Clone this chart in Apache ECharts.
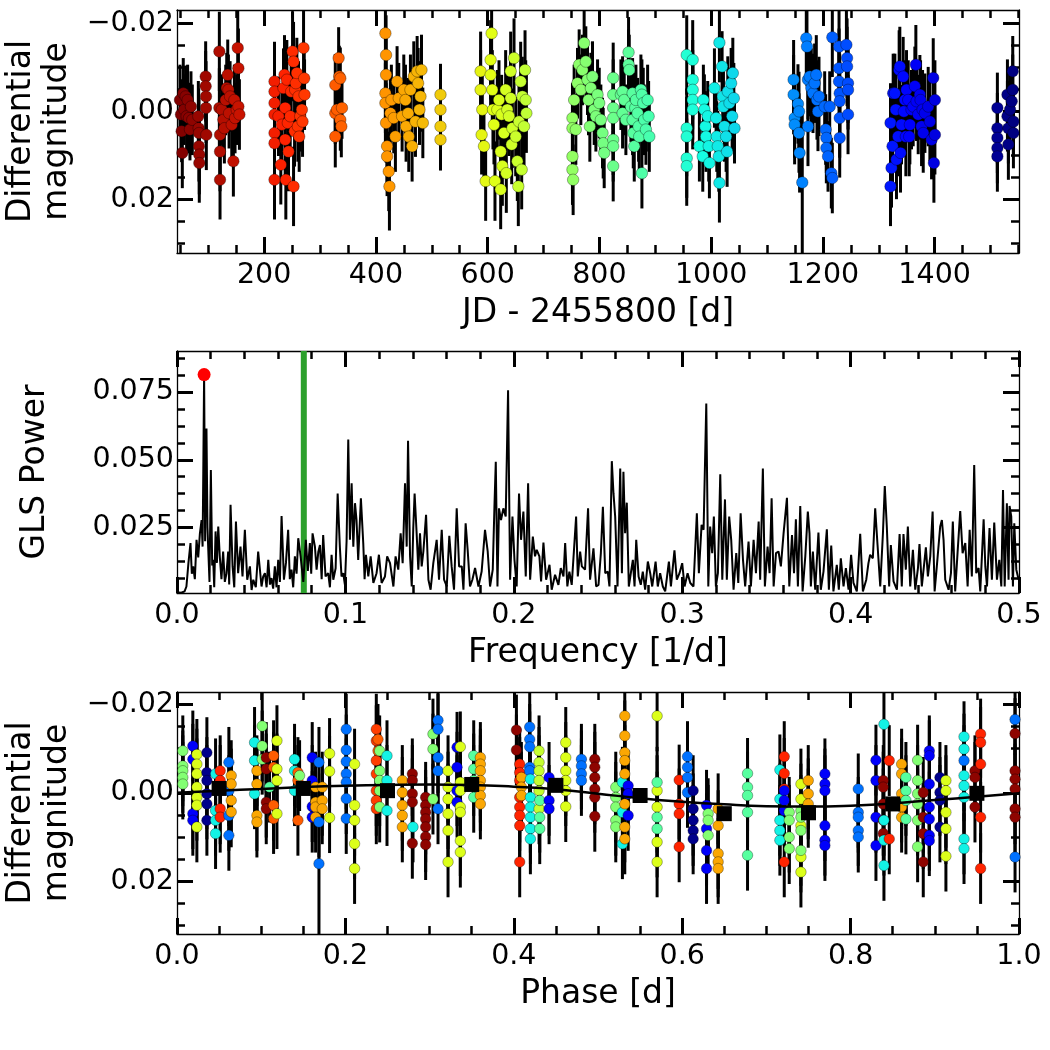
<!DOCTYPE html>
<html>
<head>
<meta charset="utf-8">
<script src="https://cdn.jsdelivr.net/npm/echarts@6/dist/echarts.min.js"></script>
<style>
  html, body { margin: 0; padding: 0; background: #fff; }
  #main { width: 1050px; height: 1050px; }
</style>
</head>
<body>
<div id="main"></div>
<script>
// light curve, one array per observing season: [JD - 2455800, diff. mag, error]
var seasonA = [[49.3,-0.0026,0.008],[51.1,0.0007,0.008],[52.3,0.0045,0.007],[53.5,0.0094,0.008],[55.2,-0.0041,0.008],[57.0,-0.0004,0.008],[59.4,-0.0034,0.007],[61.2,0.0011,0.008],[63.0,-0.0026,0.008],[65.4,0.0015,0.008],[67.2,0.0041,0.007],[69.0,-0.0011,0.008],[71.4,0.0019,0.008],[82.2,0.0011,0.008],[82.8,0.0038,0.009],[83.3,0.0049,0.008],[83.3,0.0079,0.008],[83.9,0.0098,0.009],[83.9,0.0117,0.009],[95.3,-0.0079,0.008],[95.3,-0.0057,0.008],[95.9,-0.0034,0.008],[95.9,-0.0008,0.008],[96.5,0.0053,0.008]];
var seasonB = [[119.8,-0.0136,0.009],[119.8,-0.0008,0.009],[121.0,0.0053,0.009],[121.0,0.0091,0.009],[121.0,0.0155,0.009],[124.0,-0.0004,0.008],[127.0,0.0019,0.008],[128.8,0.0038,0.008],[131.2,-0.0026,0.008],[133.0,-0.0053,0.008],[134.8,-0.0083,0.008],[136.0,-0.0049,0.008],[137.2,0.0004,0.008],[139.0,-0.0034,0.008],[142.0,0.0030,0.008],[144.9,0.0113,0.008],[146.7,-0.0026,0.008],[147.9,0.0015,0.008],[150.9,-0.0004,0.008],[152.7,-0.0144,0.009],[153.9,-0.0098,0.009],[153.9,-0.0011,0.008],[155.7,0.0007,0.008]];
var seasonC = [[218.5,-0.0068,0.009],[218.5,-0.0045,0.009],[218.5,-0.0019,0.009],[218.5,0.0007,0.009],[218.5,0.0049,0.009],[218.5,0.0072,0.009],[218.5,0.0155,0.009],[225.6,0.0011,0.009],[229.8,0.0121,0.009],[231.6,0.0030,0.009],[234.6,-0.0053,0.009],[236.4,-0.0083,0.009],[237.6,-0.0008,0.009],[237.6,0.0064,0.009],[238.8,0.0155,0.009],[240.6,-0.0072,0.009],[242.4,0.0026,0.009],[243.6,0.0091,0.009],[246.6,0.0011,0.009],[248.4,-0.0045,0.009],[250.8,-0.0136,0.009],[252.6,-0.0113,0.009],[252.6,0.0170,0.009],[254.4,0.0045,0.008],[255.5,-0.0049,0.008],[256.7,-0.0064,0.008],[258.5,-0.0087,0.008],[260.3,0.0034,0.008],[261.5,-0.0034,0.008],[262.7,0.0057,0.008],[264.5,0.0011,0.008],[267.5,-0.0004,0.008],[268.7,0.0023,0.008],[270.5,-0.0144,0.009],[271.7,-0.0075,0.008],[272.3,-0.0038,0.008]];
var seasonD = [[327.3,-0.0060,0.007],[327.3,0.0004,0.007],[327.3,0.0057,0.007],[330.3,-0.0004,0.007],[333.3,-0.0121,0.007],[334.5,-0.0079,0.007],[336.3,-0.0075,0.007],[336.3,0.0019,0.007],[338.1,0.0034,0.007],[339.3,-0.0008,0.007]];
var seasonE = [[417.0,-0.0177,0.009],[418.2,-0.0128,0.009],[418.2,-0.0083,0.009],[417.0,-0.0041,0.009],[417.0,-0.0019,0.009],[418.2,0.0026,0.009],[420.0,0.0079,0.009],[420.0,0.0102,0.009],[423.0,0.0136,0.009],[424.2,0.0170,0.010],[425.9,0.0004,0.008],[427.7,-0.0026,0.008],[431.9,0.0015,0.008],[434.9,0.0057,0.008],[437.9,-0.0068,0.008],[440.9,-0.0030,0.008],[446.9,0.0011,0.008],[449.9,-0.0049,0.008],[452.9,-0.0026,0.008],[454.0,0.0034,0.008],[457.6,0.0004,0.008],[458.8,0.0057,0.008],[461.8,-0.0049,0.008],[464.8,0.0079,0.008],[467.8,-0.0079,0.008],[470.8,0.0023,0.008],[473.8,-0.0091,0.008],[475.6,-0.0064,0.008],[478.0,-0.0004,0.008],[479.8,-0.0034,0.008],[481.6,-0.0094,0.008],[484.0,0.0026,0.008]];
var seasonF = [[515.6,-0.0038,0.007],[515.6,-0.0004,0.007],[515.6,0.0034,0.007],[515.6,0.0064,0.007]];
var seasonG = [[587.4,-0.0091,0.009],[587.4,-0.0049,0.009],[589.2,0.0053,0.009],[590.4,-0.0004,0.009],[593.4,0.0079,0.009],[596.4,0.0158,0.009],[605.3,-0.0117,0.009],[605.3,-0.0083,0.009],[607.1,-0.0177,0.009],[608.3,-0.0049,0.009],[609.5,-0.0004,0.009],[611.3,0.0030,0.009],[613.1,0.0158,0.009],[617.3,-0.0004,0.009],[620.3,-0.0026,0.009],[623.3,0.0091,0.009],[623.3,0.0177,0.009],[625.0,0.0007,0.009],[626.3,0.0124,0.009],[629.2,0.0049,0.009],[632.2,-0.0049,0.009],[633.4,0.0140,0.009],[635.2,-0.0004,0.009],[638.2,0.0011,0.009],[641.2,-0.0091,0.009],[641.2,-0.0030,0.009],[643.0,0.0075,0.009],[644.2,0.0038,0.009],[647.2,-0.0121,0.009],[650.2,0.0057,0.009],[653.1,0.0113,0.009],[654.9,0.0170,0.009],[656.1,0.0023,0.009],[659.1,-0.0068,0.009],[660.9,0.0132,0.009],[662.1,-0.0034,0.009],[665.1,0.0034,0.009],[666.9,-0.0094,0.009],[668.1,-0.0026,0.009],[669.3,0.0004,0.009]];
var seasonH = [[751.8,0.0015,0.008],[751.8,0.0038,0.008],[751.8,0.0102,0.008],[751.8,0.0132,0.008],[753.0,0.0155,0.008],[754.8,-0.0026,0.008],[757.8,0.0041,0.008],[760.8,-0.0064,0.008],[763.8,-0.0106,0.008],[766.8,-0.0049,0.008],[769.7,-0.0094,0.008],[772.7,-0.0155,0.008],[775.7,-0.0113,0.008],[778.7,-0.0072,0.008],[780.5,-0.0026,0.008],[782.9,0.0034,0.008],[784.7,-0.0053,0.008],[787.7,-0.0079,0.008],[790.7,-0.0004,0.008],[793.7,0.0011,0.008],[796.7,-0.0038,0.008],[799.7,-0.0019,0.008],[802.6,0.0019,0.008],[805.6,0.0049,0.008],[806.8,0.0072,0.008],[808.6,0.0094,0.008]];
var seasonI = [[824.7,-0.0076,0.008],[824.7,-0.0038,0.008],[824.7,-0.0008,0.008],[824.7,0.0015,0.008],[824.7,0.0064,0.008],[824.7,0.0079,0.008],[824.7,0.0124,0.008],[838.5,-0.0038,0.008],[841.5,-0.0045,0.008],[841.5,0.0004,0.008],[844.4,-0.0026,0.008],[847.4,0.0019,0.008],[852.2,-0.0134,0.008],[852.2,-0.0106,0.008],[853.4,-0.0094,0.008],[856.4,-0.0011,0.008],[859.4,-0.0041,0.008],[859.4,0.0019,0.008],[860.6,0.0049,0.008],[862.4,0.0079,0.008],[864.2,-0.0008,0.008],[865.4,-0.0026,0.008],[868.4,0.0004,0.008],[870.2,0.0034,0.008],[871.3,0.0057,0.008],[874.3,-0.0049,0.008],[876.1,-0.0038,0.008],[876.1,0.0140,0.008],[878.5,-0.0019,0.008],[880.3,0.0019,0.008],[883.3,0.0041,0.008],[886.3,-0.0026,0.008],[888.1,0.0011,0.008],[889.3,0.0057,0.008]];
var seasonJ = [[956.3,-0.0128,0.009],[956.3,0.0038,0.009],[956.3,0.0057,0.009],[956.3,0.0106,0.009],[956.3,0.0124,0.009],[967.0,-0.0117,0.009],[967.0,-0.0072,0.009],[967.0,-0.0049,0.009],[967.0,-0.0026,0.009],[967.0,-0.0004,0.009],[979.0,0.0079,0.008],[985.0,0.0102,0.008],[986.1,-0.0026,0.008],[987.9,-0.0004,0.008],[989.7,0.0034,0.008],[990.9,0.0057,0.008],[993.9,0.0011,0.008],[995.7,0.0079,0.008],[996.9,0.0117,0.008],[1005.9,-0.0053,0.009],[1008.9,0.0015,0.008],[1010.1,0.0057,0.008],[1011.9,0.0079,0.008],[1013.7,0.0102,0.008],[1014.8,-0.0156,0.009],[1014.8,0.0162,0.009],[1019.6,-0.0102,0.008],[1020.8,-0.0034,0.008],[1022.0,-0.0011,0.008],[1023.8,0.0034,0.008],[1026.8,0.0057,0.008],[1028.6,0.0091,0.008],[1029.8,-0.0045,0.008],[1032.8,-0.0019,0.008],[1035.8,-0.0064,0.008],[1037.6,0.0011,0.008],[1038.8,-0.0087,0.008],[1040.6,-0.0030,0.008],[1041.8,0.0038,0.008]];
var seasonK = [[1147.6,-0.0072,0.009],[1147.6,-0.0038,0.009],[1149.4,0.0015,0.009],[1149.4,0.0030,0.009],[1155.4,-0.0017,0.009],[1157.2,0.0000,0.009],[1157.2,0.0049,0.009],[1158.3,0.0094,0.009],[1163.1,0.0161,0.016],[1170.3,-0.0166,0.009],[1171.5,-0.0147,0.009],[1173.3,-0.0072,0.009],[1173.3,0.0034,0.009],[1176.3,-0.0079,0.009],[1179.3,-0.0053,0.009],[1182.3,-0.0041,0.009],[1185.2,-0.0064,0.009],[1188.2,-0.0083,0.009],[1189.4,-0.0026,0.009],[1191.2,0.0000,0.009],[1193.0,-0.0034,0.009],[1203.2,-0.0011,0.008],[1205.0,0.0041,0.008],[1206.2,0.0060,0.008],[1206.2,0.0083,0.008],[1209.2,0.0102,0.008],[1212.2,-0.0011,0.008],[1215.1,0.0140,0.008],[1216.9,0.0151,0.008],[1216.9,-0.0168,0.009],[1228.9,-0.0147,0.009],[1228.9,-0.0098,0.009],[1228.9,-0.0068,0.009],[1230.1,-0.0041,0.009],[1230.1,-0.0023,0.009],[1230.1,0.0015,0.009],[1230.1,0.0060,0.009],[1242.1,-0.0151,0.009],[1243.3,-0.0121,0.009],[1243.3,-0.0102,0.009],[1245.0,-0.0064,0.009],[1245.0,-0.0049,0.009],[1245.0,0.0007,0.009]];
var seasonL = [[1321.0,0.0026,0.009],[1321.0,0.0170,0.009],[1322.8,0.0128,0.009],[1324.6,0.0079,0.009],[1325.8,-0.0041,0.009],[1328.8,-0.0041,0.009],[1330.5,-0.0004,0.009],[1331.7,0.0109,0.009],[1334.7,0.0057,0.009],[1336.5,-0.0094,0.009],[1337.7,-0.0102,0.009],[1338.9,0.0094,0.009],[1340.7,0.0030,0.009],[1343.7,-0.0079,0.009],[1344.9,0.0000,0.009],[1346.7,-0.0026,0.009],[1348.5,0.0057,0.009],[1349.7,-0.0049,0.009],[1352.7,-0.0026,0.009],[1354.5,0.0057,0.009],[1355.7,0.0030,0.009],[1358.6,-0.0004,0.009],[1361.6,-0.0011,0.009],[1364.6,-0.0057,0.009],[1366.4,-0.0106,0.009],[1367.6,-0.0023,0.009],[1370.6,0.0007,0.009],[1373.6,-0.0038,0.009],[1374.8,-0.0026,0.009],[1376.6,0.0034,0.009],[1378.4,-0.0004,0.009],[1379.6,0.0049,0.009],[1382.6,0.0004,0.009],[1388.5,-0.0011,0.009],[1391.5,0.0023,0.009],[1394.5,0.0064,0.009],[1397.5,-0.0076,0.009],[1398.7,0.0117,0.009],[1400.5,-0.0026,0.009],[1400.5,0.0053,0.009]];
var seasonM = [[1512.3,-0.0008,0.008],[1512.3,0.0038,0.008],[1512.3,0.0060,0.008],[1512.3,0.0083,0.008],[1512.3,0.0102,0.008],[1530.3,-0.0038,0.008],[1530.3,0.0011,0.008],[1532.0,0.0038,0.008],[1532.0,0.0075,0.008],[1535.0,-0.0004,0.008],[1538.0,-0.0023,0.008],[1539.8,-0.0091,0.008],[1539.8,-0.0049,0.008],[1541.0,0.0023,0.008],[1541.0,0.0049,0.008]];

// GLS periodogram: [frequency 1/d, power]
var gls = [
[0.0000,0.0012],[0.0025,0.0010],[0.0045,0.0015],[0.0056,0.0033],[0.0068,0.0120],[0.0080,0.0193],[0.0088,0.0080],[0.0096,0.0107],[0.0106,0.0060],[0.0116,0.0205],[0.0126,0.0140],[0.0136,0.0229],[0.0146,0.0278],[0.0152,0.0180],[0.0156,0.0450],[0.0161,0.0814],[0.0167,0.0200],[0.0171,0.0480],[0.0175,0.0615],[0.0181,0.0250],[0.0185,0.0180],[0.0193,0.0050],[0.0201,0.0462],[0.0209,0.0110],[0.0215,0.0131],[0.0221,0.0030],[0.0229,0.0236],[0.0237,0.0120],[0.0245,0.0254],[0.0254,0.0144],[0.0264,0.0060],[0.0274,0.0162],[0.0284,0.0050],[0.0294,0.0082],[0.0304,0.0162],[0.0310,0.0040],[0.0318,0.0334],[0.0330,0.0107],[0.0340,0.0030],[0.0350,0.0272],[0.0363,0.0082],[0.0377,0.0180],[0.0389,0.0070],[0.0403,0.0242],[0.0417,0.0058],[0.0433,0.0107],[0.0443,0.0020],[0.0453,0.0058],[0.0468,0.0030],[0.0482,0.0162],[0.0502,0.0033],[0.0512,0.0070],[0.0522,0.0082],[0.0532,0.0030],[0.0542,0.0131],[0.0552,0.0040],[0.0561,0.0064],[0.0571,0.0025],[0.0581,0.0107],[0.0591,0.0030],[0.0601,0.0131],[0.0611,0.0050],[0.0621,0.0293],[0.0635,0.0058],[0.0647,0.0120],[0.0660,0.0242],[0.0670,0.0060],[0.0680,0.0095],[0.0690,0.0030],[0.0700,0.0144],[0.0710,0.0080],[0.0720,0.0211],[0.0734,0.0144],[0.0750,0.0050],[0.0765,0.0205],[0.0777,0.0090],[0.0789,0.0193],[0.0797,0.0080],[0.0805,0.0229],[0.0819,0.0180],[0.0829,0.0095],[0.0839,0.0160],[0.0849,0.0186],[0.0859,0.0060],[0.0868,0.0223],[0.0882,0.0070],[0.0898,0.0082],[0.0908,0.0030],[0.0918,0.0150],[0.0928,0.0058],[0.0942,0.0100],[0.0954,0.0376],[0.0967,0.0180],[0.0977,0.0070],[0.0987,0.0082],[0.0997,0.0040],[0.1007,0.0200],[0.1017,0.0575],[0.1027,0.0205],[0.1037,0.0413],[0.1047,0.0180],[0.1057,0.0340],[0.1066,0.0278],[0.1076,0.0131],[0.1092,0.0358],[0.1106,0.0193],[0.1114,0.0060],[0.1122,0.0150],[0.1136,0.0070],[0.1150,0.0144],[0.1166,0.0046],[0.1185,0.0082],[0.1199,0.0150],[0.1215,0.0046],[0.1235,0.0070],[0.1248,0.0144],
[0.1265,0.0119],[0.1285,0.0033],[0.1298,0.0144],[0.1314,0.0095],[0.1328,0.0229],[0.1340,0.0119],[0.1354,0.0413],[0.1364,0.0180],[0.1372,0.0570],[0.1384,0.0144],[0.1394,0.0033],[0.1403,0.0248],[0.1411,0.0376],[0.1423,0.0229],[0.1433,0.0095],[0.1443,0.0229],[0.1453,0.0107],[0.1463,0.0162],[0.1479,0.0297],[0.1493,0.0058],[0.1506,0.0021],[0.1522,0.0119],[0.1542,0.0205],[0.1556,0.0058],[0.1572,0.0242],[0.1586,0.0058],[0.1602,0.0033],[0.1617,0.0220],[0.1631,0.0107],[0.1645,0.0021],[0.1661,0.0321],[0.1675,0.0107],[0.1691,0.0107],[0.1701,0.0021],[0.1714,0.0266],[0.1726,0.0168],[0.1740,0.0033],[0.1754,0.0058],[0.1770,0.0101],[0.1790,0.0033],[0.1809,0.0088],[0.1829,0.0242],[0.1845,0.0162],[0.1859,0.0033],[0.1875,0.0095],[0.1885,0.0327],[0.1893,0.0493],[0.1903,0.0033],[0.1912,0.0321],[0.1924,0.0278],[0.1938,0.0321],[0.1952,0.0291],[0.1966,0.0756],[0.1978,0.0058],[0.1992,0.0291],[0.2004,0.0131],[0.2017,0.0033],[0.2031,0.0376],[0.2043,0.0205],[0.2057,0.0309],[0.2071,0.0070],[0.2085,0.0413],[0.2097,0.0058],[0.2113,0.0217],[0.2126,0.0144],[0.2136,0.0168],[0.2152,0.0144],[0.2162,0.0052],[0.2176,0.0195],[0.2192,0.0058],[0.2212,0.0113],[0.2225,0.0021],[0.2245,0.0076],[0.2265,0.0039],[0.2279,0.0101],[0.2295,0.0070],[0.2305,0.0193],[0.2318,0.0033],[0.2330,0.0088],[0.2344,0.0039],[0.2358,0.0174],[0.2370,0.0291],[0.2380,0.0070],[0.2394,0.0162],[0.2404,0.0107],[0.2423,0.0095],[0.2441,0.0321],[0.2453,0.0058],[0.2473,0.0174],[0.2489,0.0033],
[0.2503,0.0039],[0.2517,0.0156],[0.2529,0.0327],[0.2543,0.0082],[0.2558,0.0088],[0.2568,0.0033],[0.2582,0.0495],[0.2592,0.0376],[0.2602,0.0291],[0.2616,0.0033],[0.2632,0.0468],[0.2642,0.0082],[0.2651,0.0456],[0.2661,0.0229],[0.2671,0.0342],[0.2683,0.0033],[0.2695,0.0082],[0.2707,0.0131],[0.2717,0.0033],[0.2727,0.0205],[0.2741,0.0070],[0.2754,0.0039],[0.2766,0.0088],[0.2780,0.0021],[0.2796,0.0125],[0.2810,0.0082],[0.2822,0.0033],[0.2842,0.0125],[0.2855,0.0033],[0.2869,0.0082],[0.2885,0.0033],[0.2899,0.0015],[0.2921,0.0125],[0.2933,0.0033],[0.2954,0.0166],[0.2968,0.0058],[0.2984,0.0082],[0.3000,0.0119],[0.3014,0.0033],[0.3032,0.0082],[0.3048,0.0046],[0.3067,0.0033],[0.3087,0.0303],[0.3099,0.0082],[0.3115,0.0260],[0.3127,0.0242],[0.3143,0.0707],[0.3155,0.0033],[0.3166,0.0254],[0.3178,0.0156],[0.3188,0.0291],[0.3200,0.0033],[0.3212,0.0082],[0.3226,0.0447],[0.3238,0.0058],[0.3254,0.0354],[0.3265,0.0058],[0.3279,0.0291],[0.3291,0.0205],[0.3305,0.0021],[0.3321,0.0156],[0.3333,0.0046],[0.3347,0.0303],[0.3361,0.0131],[0.3374,0.0033],[0.3394,0.0199],[0.3408,0.0033],[0.3424,0.0205],[0.3438,0.0082],[0.3454,0.0272],[0.3463,0.0058],[0.3479,0.0468],[0.3491,0.0033],[0.3507,0.0180],[0.3519,0.0082],[0.3531,0.0358],[0.3543,0.0033],[0.3557,0.0156],[0.3572,0.0162],[0.3586,0.0107],[0.3602,0.0229],[0.3622,0.0360],[0.3636,0.0033],[0.3652,0.0223],[0.3664,0.0082],[0.3675,0.0281],[0.3687,0.0033],[0.3701,0.0330],[0.3715,0.0015],[0.3731,0.0144],
[0.3746,0.0309],[0.3756,0.0229],[0.3764,0.0033],[0.3776,0.0162],[0.3790,0.0021],[0.3809,0.0232],[0.3823,0.0021],[0.3839,0.0088],[0.3859,0.0244],[0.3871,0.0021],[0.3885,0.0184],[0.3898,0.0015],[0.3918,0.0113],[0.3930,0.0021],[0.3942,0.0137],[0.3958,0.0033],[0.3972,0.0101],[0.3988,0.0021],[0.4003,0.0150],[0.4017,0.0046],[0.4037,0.0015],[0.4057,0.0227],[0.4073,0.0015],[0.4093,0.0058],[0.4106,0.0119],[0.4116,0.0150],[0.4132,0.0137],[0.4146,0.0321],[0.4160,0.0186],[0.4176,0.0033],[0.4192,0.0229],[0.4203,0.0403],[0.4215,0.0254],[0.4229,0.0033],[0.4239,0.0186],[0.4255,0.0052],[0.4275,0.0021],[0.4291,0.0226],[0.4304,0.0033],[0.4314,0.0226],[0.4328,0.0095],[0.4340,0.0254],[0.4354,0.0033],[0.4370,0.0168],[0.4384,0.0021],[0.4400,0.0101],[0.4409,0.0189],[0.4423,0.0033],[0.4447,0.0177],[0.4459,0.0070],[0.4473,0.0144],[0.4487,0.0309],[0.4499,0.0015],[0.4512,0.0107],[0.4532,0.0254],[0.4542,0.0278],[0.4552,0.0205],[0.4562,0.0058],[0.4582,0.0021],[0.4596,0.0082],[0.4607,0.0272],[0.4621,0.0015],[0.4635,0.0156],[0.4651,0.0311],[0.4665,0.0156],[0.4681,0.0193],[0.4695,0.0033],[0.4707,0.0242],[0.4720,0.0070],[0.4734,0.0481],[0.4746,0.0082],[0.4760,0.0101],[0.4770,0.0015],[0.4790,0.0281],[0.4800,0.0107],[0.4810,0.0033],[0.4825,0.0248],[0.4839,0.0058],[0.4853,0.0269],[0.4869,0.0058],[0.4883,0.0131],[0.4895,0.0033],[0.4905,0.0389],[0.4915,0.0033],[0.4928,0.0340],[0.4938,0.0058],[0.4944,0.0330],[0.4954,0.0291],[0.4964,0.0033],[0.4972,0.0266],[0.4984,0.0095],[0.4998,0.0058]
];
var glsPeak = [0.0161, 0.0814];
var comparisonFreq = 0.0753;

// phase-folded points, grouped per column: [phase, colour JD, error, magnitudes]
var phaseColumns = [
  [0.0069, 780, 0.008, [-0.0095, -0.0061, -0.0050, -0.0035, -0.0020]],
  [0.0188, 1360, 0.008, [-0.0106, -0.0076, 0.0047, 0.0062]],
  [0.0236, 620, 0.008, [-0.0087, -0.0065, -0.0043, -0.0013, 0.0010, 0.0028, 0.0077]],
  [0.0355, 1525, 0.008, [-0.0091, -0.0046, -0.0028, 0.0002, 0.0025, 0.0062]],
  [0.0458, 1000, 0.008, [-0.0043, 0.0040, 0.0062, 0.0092]],
  [0.0513, 240, 0.008, [-0.0050, -0.0028, 0.0036, 0.0055]],
  [0.0616, 1190, 0.008, [-0.0069, -0.0005, 0.0051, 0.0096]],
  [0.0644, 450, 0.008, [-0.0039, -0.0020, 0.0017, 0.0043]],
  [0.0921, 1000, 0.008, [-0.0114, -0.0073, 0.0002]],
  [0.0949, 450, 0.008, [-0.0050, -0.0020, 0.0051, 0.0066]],
  [0.1012, 780, 0.008, [-0.0151, -0.0106, -0.0076]],
  [0.1060, 70, 0.008, [-0.0080, -0.0054, 0.0021, 0.0036]],
  [0.1099, 860, 0.008, [-0.0013]],
  [0.1147, 330, 0.008, [-0.0084, -0.0058, 0.0028, 0.0058]],
  [0.1187, 620, 0.008, [-0.0118, -0.0054, -0.0028, 0.0047]],
  [0.1396, 1000, 0.008, [-0.0076, -0.0050, -0.0005]],
  [0.1436, 330, 0.008, [-0.0046, -0.0028, 0.0062]],
  [0.1456, 780, 0.008, [-0.0039]],
  [0.1606, 1360, 0.008, [-0.0080, -0.0028, 0.0031, 0.0055]],
  [0.1646, 450, 0.008, [-0.0013, 0.0021, 0.0032, 0.0055]],
  [0.1686, 1190, 0.008, [-0.0069, 0.0066]],
  [0.1686, 1190, 0.016, [0.0160]],
  [0.1725, 450, 0.008, [-0.0013, 0.0017, 0.0036]],
  [0.1812, 620, 0.008, [-0.0089, -0.0049, 0.0056]],
  [0.2010, 1190, 0.008, [-0.0144, -0.0097, -0.0071, -0.0043, -0.0024, 0.0013, 0.0058]],
  [0.2109, 620, 0.008, [-0.0065, 0.0028, 0.0062, 0.0115, 0.0171]],
  [0.2367, 280, 0.008, [-0.0144, -0.0118, -0.0073, -0.0043, -0.0005, 0.0017, 0.0036]],
  [0.2387, 330, 0.008, [-0.0121, -0.0095]],
  [0.2407, 780, 0.008, [-0.0095, -0.0050, -0.0028, -0.0005, 0.0032]],
  [0.2494, 1000, 0.008, [-0.0084, -0.0028, 0.0040]],
  [0.2676, 450, 0.008, [-0.0028, -0.0001, 0.0028, 0.0051, 0.0077]],
  [0.2795, 70, 0.008, [-0.0043, -0.0028, 0.0002, 0.0021, 0.0114]],
  [0.2803, 1000, 0.008, [0.0077]],
  [0.2953, 70, 0.008, [0.0010, 0.0028, 0.0044, 0.0059, 0.0077, 0.0099, 0.0117]],
  [0.3040, 780, 0.008, [-0.0133, -0.0099, 0.0014]],
  [0.3100, 1190, 0.008, [-0.0164, -0.0144, -0.0080, -0.0050, 0.0036]],
  [0.3219, 620, 0.008, [-0.0050, -0.0013, 0.0014, 0.0047, 0.0085, 0.0156]],
  [0.3326, 1360, 0.008, [-0.0103, -0.0058, -0.0005, 0.0021]],
  [0.3365, 620, 0.008, [-0.0104, -0.0024, -0.0005, 0.0032, 0.0044, 0.0108, 0.0134]],
  [0.3524, 860, 0.008, [-0.0084, -0.0054, -0.0028, 0.0010]],
  [0.3603, 450, 0.008, [-0.0080, -0.0065, -0.0050, -0.0028, -0.0013, 0.0006, 0.0025]],
  [0.4031, 70, 0.008, [-0.0142, -0.0097]],
  [0.4070, 240, 0.008, [-0.0065, -0.0046, -0.0028, 0.0010, 0.0032, 0.0051, 0.0074, 0.0156]],
  [0.4090, 450, 0.008, [-0.0035, -0.0013, 0.0006]],
  [0.4189, 1190, 0.008, [-0.0149, -0.0121, -0.0104, -0.0058, -0.0050]],
  [0.4197, 1000, 0.008, [-0.0031, 0.0010, 0.0032, 0.0055, 0.0081, 0.0104]],
  [0.4300, 660, 0.008, [-0.0095, -0.0069, -0.0050, -0.0028, -0.0005, 0.0036]],
  [0.4308, 860, 0.008, [0.0017, 0.0055, 0.0081]],
  [0.4419, 1360, 0.008, [-0.0035, 0.0017, 0.0036]],
  [0.4617, 620, 0.008, [-0.0114, -0.0080, -0.0050, -0.0028, -0.0005, 0.0031]],
  [0.4803, 1190, 0.008, [-0.0076, -0.0061, -0.0043, -0.0028]],
  [0.4962, 70, 0.008, [-0.0076, -0.0058, -0.0035, -0.0009, 0.0010, 0.0053]],
  [0.5211, 780, 0.008, [-0.0013, 0.0010, 0.0032, 0.0062, 0.0077]],
  [0.5290, 1000, 0.008, [-0.0024, 0.0044, 0.0115]],
  [0.5318, 450, 0.008, [-0.0174, -0.0129, -0.0091, -0.0073, -0.0043, 0.0025, 0.0077, 0.0104]],
  [0.5358, 1360, 0.008, [-0.0016, 0.0002, 0.0051]],
  [0.5702, 620, 0.008, [-0.0174, -0.0005, 0.0032, 0.0111, 0.0156]],
  [0.5702, 860, 0.008, [-0.0024, 0.0055, 0.0081]],
  [0.5964, 240, 0.008, [-0.0029, 0.0025, 0.0047, 0.0122]],
  [0.6063, 1190, 0.008, [-0.0082, -0.0058, -0.0035, -0.0001]],
  [0.6130, 1525, 0.008, [-0.0005, 0.0036, 0.0062, 0.0085, 0.0104]],
  [0.6289, 1360, 0.008, [0.0028, 0.0081, 0.0130, 0.0171]],
  [0.6308, 780, 0.008, [0.0047, 0.0062, 0.0096]],
  [0.6427, 450, 0.008, [0.0036, 0.0074, 0.0137, 0.0156, 0.0171]],
  [0.6776, 860, 0.008, [-0.0044, -0.0013, 0.0006, 0.0044, 0.0141]],
  [0.7160, 1000, 0.008, [-0.0052, 0.0014, 0.0062, 0.0085, 0.0107]],
  [0.7212, 240, 0.008, [-0.0082, -0.0044, -0.0009, 0.0156]],
  [0.7212, 1360, 0.008, [-0.0005, 0.0017, 0.0040]],
  [0.7271, 780, 0.008, [0.0044, 0.0062, 0.0100, 0.0126]],
  [0.7410, 620, 0.008, [-0.0020, 0.0014, 0.0074, 0.0145, 0.0179]],
  [0.7410, 780, 0.008, [0.0040, 0.0055, 0.0085, 0.0130]],
  [0.7497, 450, 0.008, [-0.0028, 0.0002, 0.0025, 0.0044]],
  [0.7695, 1360, 0.008, [-0.0043, -0.0020, -0.0005, 0.0074, 0.0107, 0.0119]],
  [0.8091, 1190, 0.008, [-0.0009, 0.0044, 0.0055, 0.0085, 0.0100]],
  [0.8301, 1360, 0.008, [-0.0074, -0.0028, 0.0055, 0.0119]],
  [0.8388, 70, 0.008, [-0.0028, -0.0013, 0.0025, 0.0062, 0.0092]],
  [0.8396, 1000, 0.008, [-0.0155, 0.0062, 0.0107, 0.0164]],
  [0.8459, 240, 0.008, [-0.0073, 0.0104]],
  [0.8606, 450, 0.008, [-0.0065, -0.0043, 0.0002, 0.0032, 0.0055]],
  [0.8657, 860, 0.008, [-0.0035, -0.0005, 0.0017, 0.0059]],
  [0.8796, 780, 0.008, [-0.0074, -0.0028, 0.0002, 0.0025, 0.0062, 0.0122]],
  [0.8863, 70, 0.008, [-0.0001, 0.0055, 0.0092, 0.0156]],
  [0.8935, 1360, 0.008, [-0.0095, -0.0084, -0.0020, 0.0032, 0.0059, 0.0096, 0.0108]],
  [0.9061, 1525, 0.008, [-0.0035, -0.0001, 0.0017, 0.0077]],
  [0.9132, 620, 0.008, [-0.0028, -0.0005, 0.0044, 0.0081, 0.0143]],
  [0.9347, 1000, 0.008, [-0.0127, -0.0099, -0.0039, -0.0016, 0.0010, 0.0104, 0.0126]],
  [0.9347, 1190, 0.008, [-0.0073]],
  [0.9477, 70, 0.008, [-0.0050, -0.0035, 0.0032]],
  [0.9544, 240, 0.008, [-0.0133, -0.0114, -0.0065, 0.0055, 0.0171]],
  [0.9953, 1190, 0.008, [-0.0166, 0.0145]],
  [0.9953, 70, 0.008, [-0.0134, -0.0050, -0.0031, -0.0009, 0.0036, 0.0055]]
];

// binned means and the fitted curve
var binPhase = [0.05, 0.15, 0.25, 0.35, 0.45, 0.55, 0.65, 0.75, 0.85, 0.95];
var binMag = [-0.0010, -0.0010, -0.0005, -0.0019, -0.0017, 0.0006, 0.0047, 0.0045, 0.0025, 0.0001];
var fitPhase = [0.00, 0.05, 0.10, 0.15, 0.20, 0.25, 0.30, 0.35, 0.40, 0.45, 0.50, 0.55, 0.60, 0.65, 0.70, 0.75, 0.80, 0.85, 0.90, 0.95, 1.00];
var fitMag = [0.0000, -0.0005, -0.0009, -0.0013, -0.0016, -0.0018, -0.0019, -0.0018, -0.0014, -0.0008, 0.0002, 0.0012, 0.0020, 0.0026, 0.0030, 0.0031, 0.0029, 0.0024, 0.0016, 0.0009, 0.0001];

// tick positions
var jdMajor = [200, 400, 600, 800, 1000, 1200, 1400];
var jdMinor = [50, 100, 150, 250, 300, 350, 450, 500, 550, 650, 700, 750, 850, 900, 950, 1050, 1100, 1150, 1250, 1300, 1350, 1450, 1500, 1550];
var magMajor = [-0.02, 0, 0.02];
var magMinor = [-0.015, -0.01, -0.005, 0.005, 0.01, 0.015, 0.025, 0.03];
var freqMajor = [0, 0.1, 0.2, 0.3, 0.4, 0.5];
var freqMinor = [0.02, 0.04, 0.06, 0.08, 0.12, 0.14, 0.16, 0.18, 0.22, 0.24, 0.26, 0.28, 0.32, 0.34, 0.36, 0.38, 0.42, 0.44, 0.46, 0.48];
var powMajor = [0.025, 0.05, 0.075];
var powMinor = [0.00625, 0.0125, 0.01875, 0.03125, 0.0375, 0.04375, 0.05625, 0.0625, 0.06875, 0.08125, 0.0875];
var phaseMajor = [0, 0.2, 0.4, 0.6, 0.8, 1.0];
var phaseMinor = [0.05, 0.1, 0.15, 0.25, 0.3, 0.35, 0.45, 0.5, 0.55, 0.65, 0.7, 0.75, 0.85, 0.9, 0.95];

var jetR = ['#800000', '#ff2100', '#ff9700', '#e2ff15', '#7bff7b', '#15ffe2', '#0080ff', '#0000ff', '#000080'];

var lightCurve = [].concat(seasonA, seasonB, seasonC, seasonD, seasonE, seasonF, seasonG,
  seasonH, seasonI, seasonJ, seasonK, seasonL, seasonM);
var phased = [];
phaseColumns.forEach(function (c) {
  c[3].forEach(function (m) { phased.push([c[0], m, c[2], c[1]]); });
});

var FONT = 'DejaVu Sans';

function magLabel(v) { return (v < 0 ? '\u2212' : '') + Math.abs(v).toFixed(2); }

// four axes per side pair: main (labels, long ticks), minor, mirrored main, mirrored minor
function frame(kind, grid, min, max, major, minor, main) {
  var sides = kind === 'x' ? ['bottom', 'top'] : ['left', 'right'];
  var out = [];
  sides.forEach(function (side, s) {
    [major, minor].forEach(function (ticks, m) {
      var ax = {
        type: 'value', gridIndex: grid, position: side, min: min, max: max,
        inverse: !!main.inverse,
        axisLine: { show: m === 0, onZero: false, lineStyle: { color: '#000', width: 1.3 } },
        axisTick: { show: true, inside: true, customValues: ticks, length: m === 0 ? 16 : 8,
          lineStyle: { color: '#000', width: m === 0 ? 3 : 2.5 } },
        axisLabel: { show: false },
        splitLine: { show: false }
      };
      if (s === 0 && m === 0) {
        ax.axisLabel = { show: true, customValues: major, formatter: main.fmt, fontFamily: FONT,
          fontSize: 28.5, color: '#000', margin: kind === 'x' ? 8 : 3 };
        ax.name = main.name;
        ax.nameLocation = 'middle';
        ax.nameGap = main.gap;
        ax.nameTextStyle = { fontFamily: FONT, fontSize: 33, color: '#000', lineHeight: 36 };
      }
      out.push(ax);
    });
  });
  return out;
}

var grids = [
  { left: 177, right: 31, top: 10, height: 243, outerBoundsMode: 'none' },
  { left: 177, right: 31, top: 351, height: 242, outerBoundsMode: 'none' },
  { left: 177, right: 31, top: 692, height: 242, outerBoundsMode: 'none' }
];

var xAxes = [].concat(
  frame('x', 0, 44, 1551, jdMajor, jdMinor, { name: 'JD - 2455800 [d]', gap: 42, fmt: function (v) { return String(v); } }),
  frame('x', 1, 0, 0.5, freqMajor, freqMinor, { name: 'Frequency [1/d]', gap: 42, fmt: function (v) { return v.toFixed(1); } }),
  frame('x', 2, 0, 1, phaseMajor, phaseMinor, { name: 'Phase [d]', gap: 42, fmt: function (v) { return v.toFixed(1); } })
);
var yAxes = [].concat(
  frame('y', 0, -0.0230, 0.0321, magMajor, magMinor, { name: 'Differential\nmagnitude', gap: 88, fmt: magLabel, inverse: true }),
  frame('y', 1, 0.0009, 0.0901, powMajor, powMinor, { name: 'GLS Power', gap: 124, fmt: function (v) { return v.toFixed(3); } }),
  frame('y', 2, -0.0228, 0.0319, magMajor, magMinor, { name: 'Differential\nmagnitude', gap: 88, fmt: magLabel, inverse: true })
);

function errorBar(params, api) {
  var x = api.value(0), y = api.value(1), e = api.value(2);
  var p1 = api.coord([x, y - e]);
  var p2 = api.coord([x, y + e]);
  return {
    type: 'line',
    shape: { x1: p1[0], y1: p1[1], x2: p2[0], y2: p2[1] },
    style: { stroke: '#000', lineWidth: 3 }
  };
}

var chart = echarts.init(document.getElementById('main'), null, { renderer: 'canvas' });
chart.setOption({
  animation: false,
  backgroundColor: '#fff',
  grid: grids,
  xAxis: xAxes,
  yAxis: yAxes,
  visualMap: [
    { type: 'continuous', show: false, seriesIndex: 1, dimension: 0, min: 49, max: 1541, inRange: { color: jetR } },
    { type: 'continuous', show: false, seriesIndex: 6, dimension: 3, min: 49, max: 1541, inRange: { color: jetR } }
  ],
  series: [
    { type: 'custom', xAxisIndex: 0, yAxisIndex: 0, clip: true, renderItem: errorBar, data: lightCurve, z: 2 },
    { type: 'scatter', xAxisIndex: 0, yAxisIndex: 0, symbolSize: 11.5, data: lightCurve, z: 3,
      itemStyle: { borderColor: 'rgba(0,0,0,0.55)', borderWidth: 0.6, opacity: 1 } },
    // comparison frequency marker
    { type: 'line', xAxisIndex: 4, yAxisIndex: 4, showSymbol: false, symbol: 'none',
      data: [[comparisonFreq, 0.0009], [comparisonFreq, 0.0901]],
      lineStyle: { color: '#2ca02c', width: 6 }, z: 2 },
    { type: 'line', xAxisIndex: 4, yAxisIndex: 4, data: gls, showSymbol: false, symbol: 'none', clip: true,
      lineStyle: { color: '#000', width: 2 }, z: 3 },
    { type: 'scatter', xAxisIndex: 4, yAxisIndex: 4, data: [glsPeak], symbolSize: 13,
      itemStyle: { color: '#ff0000', opacity: 1 }, z: 4 },
    { type: 'custom', xAxisIndex: 8, yAxisIndex: 8, clip: true, renderItem: errorBar, data: phased, z: 2 },
    { type: 'scatter', xAxisIndex: 8, yAxisIndex: 8, symbolSize: 10.5, data: phased, z: 3,
      itemStyle: { borderColor: 'rgba(0,0,0,0.55)', borderWidth: 0.6, opacity: 1 } },
    { type: 'line', xAxisIndex: 8, yAxisIndex: 8, smooth: true, showSymbol: false, symbol: 'none',
      data: fitPhase.map(function (p, i) { return [p, fitMag[i]]; }),
      lineStyle: { color: '#000', width: 2.5 }, z: 4 },
    { type: 'scatter', xAxisIndex: 8, yAxisIndex: 8, symbol: 'rect', symbolSize: 15,
      data: binPhase.map(function (p, i) { return [p, binMag[i]]; }),
      itemStyle: { color: '#000', opacity: 1 }, z: 5 }
  ]
});
</script>
</body>
</html>
